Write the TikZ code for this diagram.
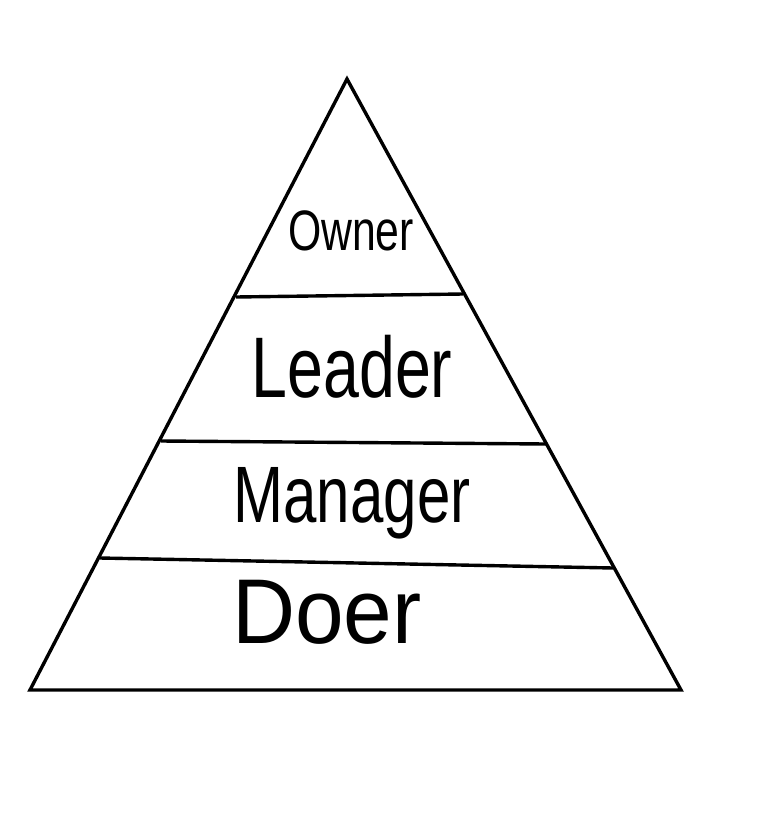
\documentclass[tikz,border=0pt]{standalone}
\usepackage{fontspec}
\newfontfamily\handfont[FakeStretch=0.75]{Liberation Sans}
\newfontfamily\widehandfont[FakeStretch=0.95]{Liberation Sans}
\usetikzlibrary{positioning}

\begin{document}
\begin{tikzpicture}[
    x=1pt, y=-1pt,
    edge/.style={draw, line width=3.4pt, line join=miter},
    divider/.style={draw, line width=3.4pt},
    tier/.style={anchor=base, inner sep=0pt, font=\handfont}
  ]
    \useasboundingbox (0,0) rectangle (758,822);
    % outline of the pyramid
    \coordinate (top) at (347,79);
    \coordinate (bl) at (30,690);
    \coordinate (br) at (681,690);
    \path[edge] (top) -- (br) -- (bl) -- cycle;
    % dividing lines
    \coordinate (d1l) at (236,297);
    \coordinate (d1r) at (463,294);
    \coordinate (d2l) at (161,441);
    \coordinate (d2r) at (546,444);
    \coordinate (d3l) at (100,558);
    \coordinate (d3r) at (613,568);
    \path[divider] (d1l) -- (d1r);
    \path[divider] (d2l) -- (d2r);
    \path[divider] (d3l) -- (d3r);
    % labels
    \node[tier, font=\handfont\fontsize{57}{57}\selectfont] (owner) at (351,250) {Owner};
    \node[tier, font=\handfont\fontsize{86}{86}\selectfont] (leader) at (352,397) {Leader};
    \node[tier, font=\handfont\fontsize{80}{80}\selectfont] (manager) at (352,522) {Manager};
    \node[tier, font=\widehandfont\fontsize{92}{92}\selectfont] (doer) at (327,643) {Doer};
  \end{tikzpicture}
\end{document}
